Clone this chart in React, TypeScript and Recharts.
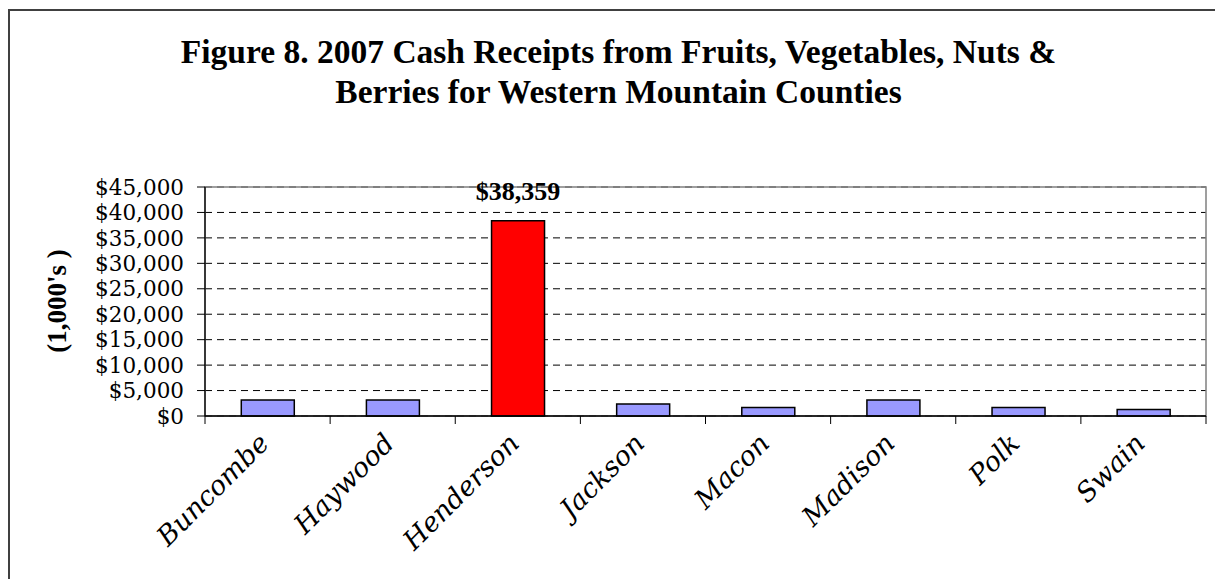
import React from "react";
import {
  BarChart,
  Bar,
  XAxis,
  YAxis,
  CartesianGrid,
  Cell,
  LabelList,
  ReferenceArea,
} from "recharts";

const counties = ["Buncombe", "Haywood", "Henderson", "Jackson", "Macon", "Madison", "Polk", "Swain"];
const receipts = [3150, 3150, 38359, 2370, 1650, 3150, 1650, 1260];
const yTicks = [0, 5000, 10000, 15000, 20000, 25000, 30000, 35000, 40000, 45000];
const highlighted = "Henderson";

const data = counties.map((county, i) => ({ county, receipts: receipts[i] }));

const W = 1215;
const H = 579;
const M = { top: 187, right: 9, left: 105, bottom: 63 };
const Y_AXIS_W = 100;
const X_AXIS_H = 100;
const plotW = W - M.left - M.right - Y_AXIS_W;
const bandW = plotW / counties.length;

const money = (v: number) => "$" + v.toLocaleString("en-US");

function CountyTick(props: any) {
  const { x, y, payload, index } = props;
  const top = y - 8;
  const last = index === counties.length - 1;
  return (
    <g>
      <line x1={x - bandW / 2} x2={x - bandW / 2} y1={top} y2={y} stroke="#000" />
      {last && <line x1={x + bandW / 2} x2={x + bandW / 2} y1={top} y2={y} stroke="#000" />}
      <text
        x={x + 3}
        y={y + 21}
        transform={`rotate(-45, ${x + 3}, ${y + 21})`}
        textAnchor="end"
        fontFamily="DejaVu Serif"
        fontStyle="italic"
        fontSize={27}
        fill="#000"
      >
        {payload.value}
      </text>
    </g>
  );
}

function ValueLabel(props: any) {
  const { x, y, width, value, index } = props;
  if (counties[index] !== highlighted) return null;
  return (
    <text
      x={x + width / 2}
      y={y - 21}
      textAnchor="middle"
      fontFamily="Liberation Serif"
      fontWeight="bold"
      fontSize={26}
      fill="#000"
    >
      {money(value)}
    </text>
  );
}

export default function App() {
  return (
    <div style={{ position: "absolute", left: 0, top: 0, width: W, height: H, overflow: "hidden", background: "#fff" }}>
      <div
        style={{
          position: "absolute",
          left: 8,
          top: 9,
          width: W,
          height: H,
          borderLeft: "2px solid #404040",
          borderTop: "2px solid #404040",
        }}
      />
      <div
        style={{
          position: "absolute",
          left: 0,
          width: 1237,
          top: 32,
          textAlign: "center",
          fontFamily: "Liberation Serif",
          fontWeight: "bold",
          fontSize: 33.5,
          lineHeight: "40px",
          color: "#000",
        }}
      >
        Figure 8. 2007 Cash Receipts from Fruits, Vegetables, Nuts &amp;
        <br />
        Berries for Western Mountain Counties
      </div>
      <div
        style={{
          position: "absolute",
          left: 57 - 80,
          top: 301 - 16,
          width: 160,
          height: 32,
          lineHeight: "32px",
          textAlign: "center",
          transform: "rotate(-90deg)",
          fontFamily: "Liberation Serif",
          fontWeight: "bold",
          fontSize: 27,
          color: "#000",
        }}
      >
        (1,000's )
      </div>
      <div style={{ position: "absolute", left: 0, top: 0 }}>
        <BarChart width={W} height={H} data={data} margin={M} barCategoryGap="29%">
          <CartesianGrid vertical={false} stroke="#000" strokeDasharray="7 5" />
          <ReferenceArea y1={0} y2={45000} fill="none" stroke="#808080" strokeWidth={1.5} ifOverflow="visible" />
          <YAxis
            width={Y_AXIS_W}
            domain={[0, 45000]}
            ticks={yTicks}
            interval={0}
            tickFormatter={money}
            tickSize={8}
            tickMargin={13}
            axisLine={{ stroke: "#000", strokeWidth: 1.3 }}
            tickLine={{ stroke: "#000" }}
            tick={{ fill: "#000", fontFamily: "DejaVu Serif", fontSize: 21.5 }}
          />
          <XAxis
            dataKey="county"
            height={X_AXIS_H}
            interval={0}
            tickSize={8}
            tickMargin={0}
            tickLine={false}
            axisLine={{ stroke: "#000", strokeWidth: 1.3 }}
            tick={<CountyTick />}
          />
          <Bar dataKey="receipts" stroke="#000" strokeWidth={1.5} isAnimationActive={false}>
            {data.map((d) => (
              <Cell key={d.county} fill={d.county === highlighted ? "#FF0000" : "#9999FF"} />
            ))}
            <LabelList dataKey="receipts" content={<ValueLabel />} />
          </Bar>
        </BarChart>
      </div>
    </div>
  );
}
